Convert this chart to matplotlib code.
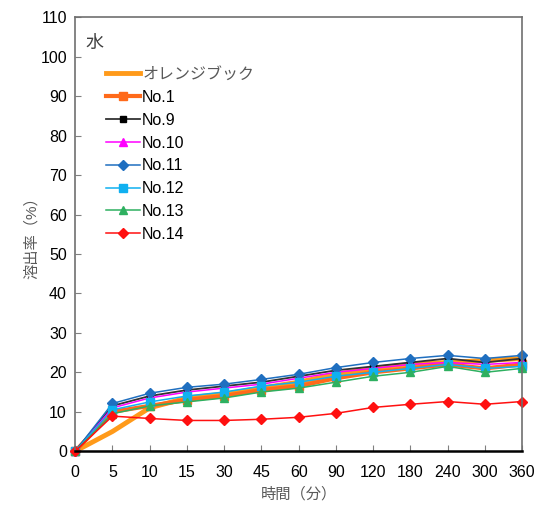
import matplotlib
matplotlib.use("Agg")
import matplotlib.pyplot as plt
from matplotlib.lines import Line2D

plt.rcParams['font.family'] = ['Liberation Sans', 'Noto Sans CJK JP', 'DejaVu Sans']

times = ["0", "5", "10", "15", "30", "45", "60", "90", "120", "180", "240", "300", "360"]
orange_book = [0, 5, 11, 13.5, 14.5, 16, 17.5, 19.5, 21, 22, 22.5, 23, 23.5]
no1 = [0, 10, 11.5, 13, 14, 15.5, 16.5, 18.5, 20, 21, 22, 21, 22]
no9 = [0, 11.5, 14, 15.5, 16.5, 17.5, 19, 20.5, 21.5, 22.5, 23.5, 22.5, 23.5]
no10 = [0, 11, 13.5, 15, 16, 17, 18.5, 20, 21, 22, 22.5, 22, 22.5]
no11 = [0, 12.1, 14.7, 16.2, 17, 18.2, 19.5, 21.2, 22.5, 23.5, 24.3, 23.5, 24.3]
no12 = [0, 10.5, 12.5, 14, 15, 16.5, 17.5, 19, 20, 21, 22, 21, 21.5]
no13 = [0, 9.5, 11.5, 12.5, 13.5, 15, 16, 17.5, 19, 20, 21.5, 20, 21]
no14 = [0, 8.9, 8.3, 7.8, 7.8, 8.1, 8.6, 9.6, 11.1, 11.9, 12.6, 11.9, 12.6]

series = [
    ("オレンジブック", orange_book, dict(color="#FF9A1A", lw=3.5, marker=None)),
    ("No.1", no1, dict(color="#FF6A1A", lw=3, marker="s", ms=6)),
    ("No.9", no9, dict(color="#333333", lw=1.3, marker="s", ms=5, mfc="black", mec="black")),
    ("No.10", no10, dict(color="#FF00FF", lw=1.1, marker="^", ms=6)),
    ("No.11", no11, dict(color="#1F6FC0", lw=1.1, marker="D", ms=5)),
    ("No.12", no12, dict(color="#10B0F0", lw=1.1, marker="s", ms=6)),
    ("No.13", no13, dict(color="#2EB060", lw=1.1, marker="^", ms=6)),
    ("No.14", no14, dict(color="#FF1010", lw=1.1, marker="D", ms=5)),
]

fig = plt.figure(figsize=(5.49, 5.07), dpi=100)
ax = fig.add_axes([0.137, 0.110, 0.814, 0.856])

x = list(range(len(times)))
handles = []
for label, vals, st in series:
    st = dict(st)
    mk = st.pop("marker")
    kw = dict(color=st["color"], lw=st["lw"])
    if mk:
        kw.update(marker=mk, markersize=st.get("ms", 5),
                  markerfacecolor=st.get("mfc", st["color"]),
                  markeredgecolor=st.get("mec", st["color"]))
    h, = ax.plot(x, vals, label=label, clip_on=False, **kw)
    handles.append(h)

ax.set_xlim(0, len(times) - 1)
ax.set_ylim(0, 110)
ax.set_xticks(x)
ax.set_xticklabels(times)
ax.set_yticks(range(0, 111, 10))
ax.tick_params(axis='both', direction='in', labelsize=11.5, length=4, colors='#808080', labelcolor='black')
ax.tick_params(axis='x', pad=10)
ax.tick_params(axis='y', pad=6)
for s in ['left', 'top', 'right']:
    ax.spines[s].set_color('#707070')
    ax.spines[s].set_linewidth(1.2)
ax.spines['bottom'].set_color('black')
ax.spines['bottom'].set_linewidth(1.8)

ax.set_xlabel("時間（分）", fontsize=11, color='#595959', labelpad=5)
ax.set_ylabel("溶出率（%）", fontsize=11, color='#595959', labelpad=1)

ax.text(0.024, 0.96, "水", transform=ax.transAxes, fontsize=13, color='#404040', va='top', ha='left')

leg = ax.legend(handles=handles, loc='upper left', bbox_to_anchor=(0.055, 0.90),
                frameon=False, fontsize=11.5, handlelength=2.1, handletextpad=0.15,
                labelspacing=0.49, borderaxespad=0)
for t in leg.get_texts():
    if t.get_text() == "オレンジブック":
        t.set_color('#595959')
    else:
        t.set_color('black')

fig.savefig("out.png", dpi=100)
